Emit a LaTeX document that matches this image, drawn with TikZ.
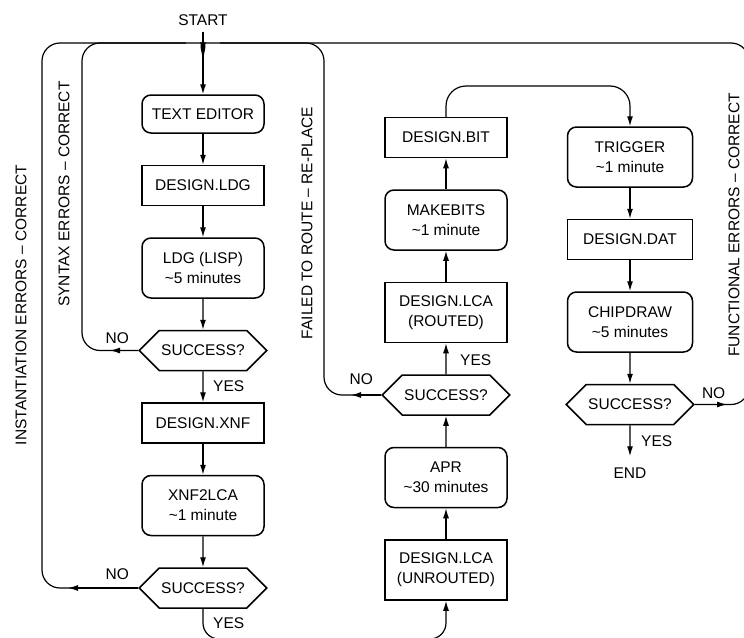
\documentclass[tikz,border=0pt]{standalone}
\usepackage{fontspec}
\setmainfont{Liberation Sans}
\usetikzlibrary{arrows.meta,positioning,shapes.symbols}
\tikzset{
  box/.style={draw, line width=1.5pt, align=center, minimum width=122pt, minimum height=40pt, inner sep=2pt, font=\fontsize{15.5}{20}\selectfont},
  file/.style={box},
  prog/.style={box, rounded corners=9pt, minimum height=60pt},
  test/.style={box, signal, signal to=west and east, signal pointer angle=90},
  flow/.style={line width=1.2pt},
  arrow/.style={flow, -{Latex[length=10pt,width=6pt]}},
  lbl/.style={inner sep=0pt, font=\fontsize{15.5}{18}\selectfont},
  side/.style={lbl, rotate=90},
}

\begin{document}
\begin{tikzpicture}[x=1pt, y=-1pt, node distance=31pt]
  \useasboundingbox (0,0) rectangle (744,637);
  \clip (0,0) rectangle (744,637);

  % column 1: entry, compile, translate
  \node[lbl] (start) at (203,20) {START};
  \node[prog, minimum height=38pt] (editor) at (203,114) {TEXT EDITOR};
  \node[file, below=of editor] (ldg) {DESIGN.LDG};
  \node[prog, below=of ldg] (lisp) {LDG (LISP)\\\textasciitilde5 minutes};
  \node[test, below=of lisp] (ok1) {SUCCESS?};
  \node[file, below=of ok1] (xnf) {DESIGN.XNF};
  \node[prog, below=of xnf] (xnf2lca) {XNF2LCA\\\textasciitilde1 minute};
  \node[test, below=of xnf2lca] (ok2) {SUCCESS?};

  % column 2: place and route, going up
  \node[file, minimum height=60pt] (unrouted) at (446,570) {DESIGN.LCA\\(UNROUTED)};
  \node[prog, above=of unrouted] (apr) {APR\\\textasciitilde30 minutes};
  \node[test, above=of apr] (ok3) {SUCCESS?};
  \node[file, minimum height=60pt, above=of ok3] (routed) {DESIGN.LCA\\(ROUTED)};
  \node[prog, above=of routed] (makebits) {MAKEBITS\\\textasciitilde1 minute};
  \node[file, above=of makebits] (bit) {DESIGN.BIT};

  % column 3: simulation
  \node[prog, minimum width=125pt] (trigger) at (630,157) {TRIGGER\\\textasciitilde1 minute};
  \node[file, minimum width=125pt, below=of trigger] (dat) {DESIGN.DAT};
  \node[prog, minimum width=125pt, below=of dat] (chipdraw) {CHIPDRAW\\\textasciitilde5 minutes};
  \node[test, minimum width=125pt, below=of chipdraw] (ok4) {SUCCESS?};
  \node[lbl, below=42pt of ok4] (finish) {END};

  % yes / no labels
  \node[lbl, above left=7pt and 9pt of ok1.west] (no1) {NO};
  \node[lbl, below right=9pt and 10pt of ok1.south] (yes1) {YES};
  \node[lbl, above left=8pt and 9pt of ok2.west] (no2) {NO};
  \node[lbl, below right=9pt and 10pt of ok2.south] (yes2) {YES};
  \node[lbl, above left=10pt and 8pt of ok3.west] (no3) {NO};
  \node[lbl, above right=8pt and 14pt of ok3.north] (yes3) {YES};
  \node[lbl, above right=6pt and 7pt of ok4.east] (no4) {NO};
  \node[lbl, below right=10pt and 11pt of ok4.south] (yes4) {YES};

  % loop labels
  \node[side] (instlbl) at (21,305) {INSTANTIATION ERRORS -- CORRECT};
  \node[side] (syntlbl) at (64,194) {SYNTAX ERRORS -- CORRECT};
  \node[side] (routelbl) at (307,223) {FAILED TO ROUTE -- RE-PLACE};
  \node[side] (funclbl) at (734,225) {FUNCTIONAL ERRORS -- CORRECT};

  % rails for the loops
  \coordinate (join) at (203,60);
  \coordinate (toprail) at (0,43);
  \coordinate (lmerge) at (186,43);
  \coordinate (rmerge) at (220,43);
  \coordinate (railI) at (42,0);
  \coordinate (railS) at (82,0);
  \coordinate (railR) at (324,0);
  \coordinate (railF) at (749,0);
  \coordinate (overpass) at (0,86);
  \coordinate (bottomrail) at (0,639);
  \coordinate (tipS) at (ok1.west -| 110,0);
  \coordinate (tipI) at (ok2.west -| 68,0);
  \coordinate (tipR) at (ok3.west -| 351,0);
  \coordinate (tipF) at (ok4.east -| 727,0);

  % main flow
  \draw[arrow, shorten <=6pt] (start) -- (editor);
  \draw[arrow] (editor) -- (ldg);
  \draw[arrow] (ldg) -- (lisp);
  \draw[arrow] (lisp) -- (ok1);
  \draw[arrow] (ok1) -- (xnf);
  \draw[arrow] (xnf) -- (xnf2lca);
  \draw[arrow] (xnf2lca) -- (ok2);
  \draw[arrow, rounded corners=16pt] (ok2.south) -- (ok2.south |- bottomrail) -- (unrouted.south |- bottomrail) -- (unrouted.south);
  \draw[arrow] (unrouted) -- (apr);
  \draw[arrow] (apr) -- (ok3);
  \draw[arrow] (ok3) -- (routed);
  \draw[arrow] (routed) -- (makebits);
  \draw[arrow] (makebits) -- (bit);
  \draw[arrow, rounded corners=20pt] (bit.north) -- (bit.north |- overpass) -- (trigger.north |- overpass) -- (trigger.north);
  \draw[arrow] (trigger) -- (dat);
  \draw[arrow] (dat) -- (chipdraw);
  \draw[arrow] (chipdraw) -- (ok4);
  \draw[arrow, shorten >=11pt] (ok4) -- (finish);

  % error loops back to the editor
  \draw[arrow] (ok1.west) -- (tipS);
  \draw[flow, rounded corners=18pt] (ok1.west) -- (ok1.west -| railS) -- (railS |- toprail) -- (lmerge) .. controls +(12,0) and +(0,-10) .. (join);
  \draw[arrow] (ok2.west) -- (tipI);
  \draw[flow, rounded corners=18pt] (ok2.west) -- (ok2.west -| railI) -- (railI |- toprail) -- (lmerge);
  \draw[arrow] (ok3.west) -- (tipR);
  \draw[flow, rounded corners=18pt] (ok3.west) -- (ok3.west -| railR) -- (railR |- toprail) -- (rmerge) .. controls +(-12,0) and +(0,-10) .. (join);
  \draw[arrow] (ok4.east) -- (tipF);
  \draw[flow, rounded corners=18pt] (ok4.east) -- (ok4.east -| railF) -- (railF |- toprail) -- (rmerge);
\end{tikzpicture}
\end{document}
